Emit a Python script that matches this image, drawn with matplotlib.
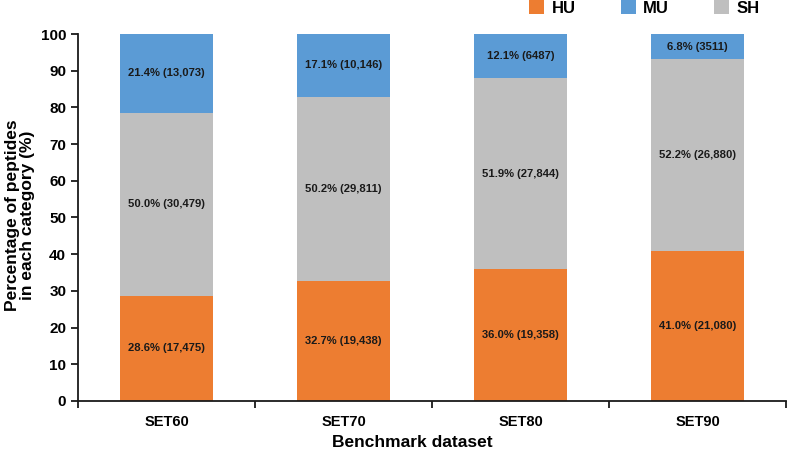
import matplotlib.pyplot as plt
import numpy as np

plt.rcParams['font.family'] = ['Liberation Sans', 'DejaVu Sans']
plt.rcParams['font.weight'] = 'bold'

datasets = ['SET60', 'SET70', 'SET80', 'SET90']
hu_pct = [28.6, 32.7, 36.0, 41.0]
sh_pct = [50.0, 50.2, 51.9, 52.2]
mu_pct = [21.4, 17.1, 12.1, 6.8]
hu_n = ['17,475', '19,438', '19,358', '21,080']
sh_n = ['30,479', '29,811', '27,844', '26,880']
mu_n = ['13,073', '10,146', '6487', '3511']

c_hu = '#ED7D31'
c_mu = '#5B9BD5'
c_sh = '#BFBFBF'


def add_labels(ax, x, bottoms, vals, counts):
    for xi, b, v, n in zip(x, bottoms, vals, counts):
        ax.text(xi, b + v / 2, f'{v:.1f}% ({n})', ha='center', va='center',
                fontsize=8.1, fontweight='bold', color='#1a1a1a')


fig = plt.figure(figsize=(7.88, 4.51), dpi=100)
ax = fig.add_axes([0.099, 0.111, 0.8985, 0.8135])

x = np.arange(len(datasets))
w = 0.53
hu = np.array(hu_pct)
sh = np.array(sh_pct)
mu = 100 - hu - sh  # top segment fills up to 100

b1 = ax.bar(x, hu, w, color=c_hu, label='HU')
b3 = ax.bar(x, sh, w, bottom=hu, color=c_sh, label='SH')
b2 = ax.bar(x, mu, w, bottom=hu + sh, color=c_mu, label='MU')

add_labels(ax, x, np.zeros(len(x)), hu_pct, hu_n)
add_labels(ax, x, hu, sh_pct, sh_n)
add_labels(ax, x, hu + sh, mu_pct, mu_n)

ax.set_xlim(-0.5, len(datasets) - 0.5)
ax.set_ylim(0, 100)
ax.set_yticks(range(0, 101, 10))
ax.set_xticks(x)
ax.set_xticklabels(datasets, fontsize=10.5, fontweight='bold')
ax.set_xticks(np.arange(-0.5, len(datasets), 1.0), minor=True)
ax.tick_params(axis='x', which='major', length=0, pad=10)
ax.tick_params(axis='x', which='minor', length=5, width=1.3, color='#1a1a1a')
ax.tick_params(axis='y', length=5, width=1.3, color='#1a1a1a', labelsize=11)
for lab in ax.get_yticklabels():
    lab.set_fontweight('bold')

for s in ['top', 'right']:
    ax.spines[s].set_visible(False)
for s in ['left', 'bottom']:
    ax.spines[s].set_linewidth(1.3)
    ax.spines[s].set_color('#1a1a1a')

ax.set_ylabel('Percentage of peptides\nin each category (%)', fontsize=12.5,
              fontweight='bold', linespacing=1.05, va='center')
ax.yaxis.set_label_coords(-0.082, 0.505)
ax.set_xlabel('Benchmark dataset', fontsize=12.5, fontweight='bold', va='center')
ax.xaxis.set_label_coords(0.472, -0.114)

fig.legend([b1, b2, b3], ['HU', 'MU', 'SH'], ncol=3, frameon=False,
           loc='center', bbox_to_anchor=(0.818, 0.982),
           prop={'family': ['Liberation Sans'], 'weight': 'bold', 'size': 12},
           handlelength=0.9, handleheight=0.9, columnspacing=2.7,
           handletextpad=0.45)

fig.savefig('out.png', dpi=100)
